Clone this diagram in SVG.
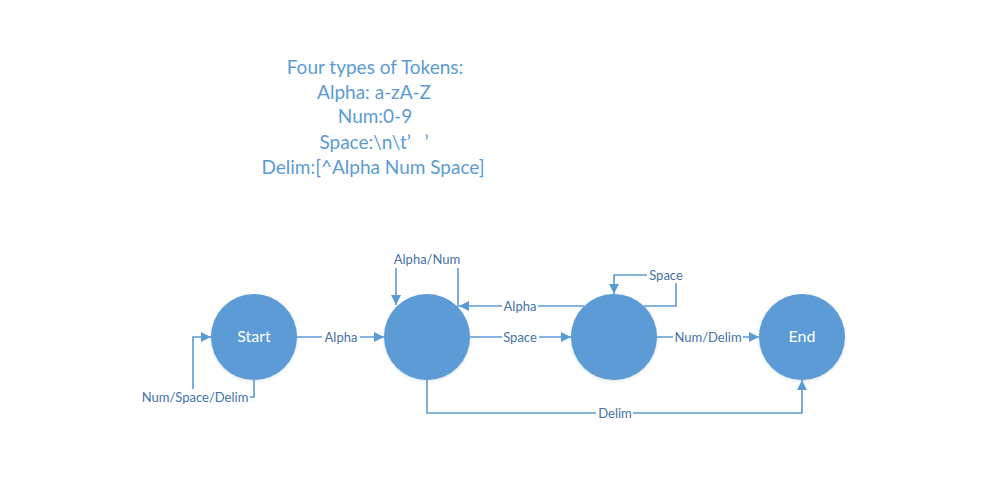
<svg xmlns="http://www.w3.org/2000/svg" width="996" height="501" viewBox="0 0 996 501">
  <defs>
    <marker id="arr" viewBox="0 0 10 10" refX="10" refY="5" markerWidth="11" markerHeight="10" markerUnits="userSpaceOnUse" orient="auto">
      <path d="M0,0 L10,5 L0,10 Z" fill="#5B9BD5"/>
    </marker>
    <filter id="glow" x="-20%" y="-20%" width="140%" height="140%">
      <feDropShadow dx="0" dy="1" stdDeviation="1.5" flood-color="#7f9fbf" flood-opacity="0.35"/>
    </filter>
  </defs>
  <style>
    .title { font-family: Lato, "Liberation Sans", sans-serif; font-size: 19px; fill: #5B9BD5; text-anchor: middle; }
    .node { fill: #5B9BD5; filter: url(#glow); }
    .ntext { font-family: Lato, "Liberation Sans", sans-serif; font-size: 16px; fill: #ffffff; text-anchor: middle; }
    .edge { fill: none; stroke: #5B9BD5; stroke-width: 1.6; marker-end: url(#arr); }
    .lbg { fill: #ffffff; }
    .ltext { font-family: Lato, "Liberation Sans", sans-serif; font-size: 13px; fill: #4472A8; text-anchor: middle; }
  </style>
  <rect x="0" y="0" width="996" height="501" fill="#ffffff"/>

  <g id="title">
    <text class="title" x="375" y="74">Four types of Tokens:</text>
    <text class="title" x="374" y="99">Alpha: a-zA-Z</text>
    <text class="title" x="375" y="123">Num:0-9</text>
    <text class="title" x="374" y="149">Space:\n\t’<tspan dx="9"> ’</tspan></text>
    <text class="title" x="373" y="174">Delim:[^Alpha Num Space]</text>
  </g>

  <g id="connectors">
    <path class="edge" d="M254,379 V397 H193 V337 H211"/>
    <path class="edge" d="M297,337 H384"/>
    <path class="edge" d="M458,307 V260 H396 V305"/>
    <path class="edge" d="M584,306 H459"/>
    <path class="edge" d="M470,337 H571"/>
    <path class="edge" d="M644,306 H676 V275 H614 V294"/>
    <path class="edge" d="M657,337 H759"/>
    <path class="edge" d="M427,380 V413 H802 V380"/>

    <g id="labels">
      <rect class="lbg" x="141" y="389" width="109" height="16"/>
      <text class="ltext" x="195" y="402">Num/Space/Delim</text>
      <rect class="lbg" x="322" y="329" width="38" height="16"/>
      <text class="ltext" x="341" y="342">Alpha</text>
      <rect class="lbg" x="391" y="250" width="72" height="18"/>
      <text class="ltext" x="427" y="264">Alpha/Num</text>
      <rect class="lbg" x="502" y="298" width="36" height="16"/>
      <text class="ltext" x="520" y="311">Alpha</text>
      <rect class="lbg" x="502" y="329" width="37" height="16"/>
      <text class="ltext" x="520" y="342">Space</text>
      <rect class="lbg" x="647" y="267" width="39" height="16"/>
      <text class="ltext" x="666" y="280">Space</text>
      <rect class="lbg" x="673" y="329" width="70" height="16"/>
      <text class="ltext" x="708" y="342">Num/Delim</text>
      <rect class="lbg" x="596" y="405" width="37" height="16"/>
      <text class="ltext" x="615" y="418">Delim</text>
    </g>
  </g>

  <g id="start">
    <circle class="node" cx="254" cy="337" r="43"/>
    <text class="ntext" x="254" y="342">Start</text>
  </g>
  <g id="s1">
    <circle class="node" cx="427" cy="337" r="43"/>
  </g>
  <g id="s2">
    <circle class="node" cx="614" cy="337" r="43"/>
  </g>
  <g id="end">
    <circle class="node" cx="802" cy="337" r="43"/>
    <text class="ntext" x="802" y="342">End</text>
  </g>
</svg>
